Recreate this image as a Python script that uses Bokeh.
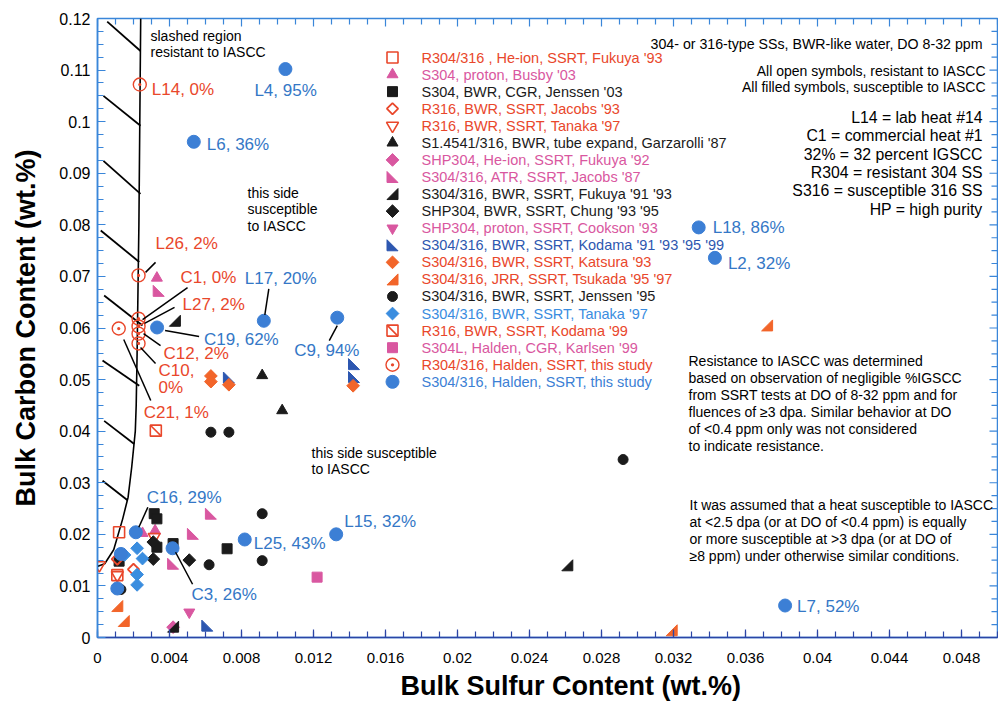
import numpy as np
from bokeh.plotting import figure
from bokeh.models import Range1d, FixedTicker, Title
from bokeh.core.properties import value
from bokeh.embed import file_html
from bokeh.resources import INLINE

# ---------------- data ----------------
x_tick_values = [0.0, 0.004, 0.008, 0.012, 0.016, 0.02, 0.024, 0.028, 0.032, 0.036, 0.04, 0.044, 0.048]
x_tick_labels = ["0", "0.004", "0.008", "0.012", "0.016", "0.02", "0.024", "0.028", "0.032",
                 "0.036", "0.04", "0.044", "0.048"]
y_tick_values = [0.0, 0.01, 0.02, 0.03, 0.04, 0.05, 0.06, 0.07, 0.08, 0.09, 0.1, 0.11, 0.12]
y_tick_labels = ["0", "0.01", "0.02", "0.03", "0.04", "0.05", "0.06", "0.07", "0.08", "0.09",
                 "0.1", "0.11", "0.12"]

fukuya93_S = [0.0012, 0.0011]
fukuya93_C = [0.0204, 0.0121]
busby03_S = [0.0033, 0.0032, 0.0025]
busby03_C = [0.0697, 0.0207, 0.0202]
jenssen03_S = [0.00315, 0.0033, 0.0033, 0.0042, 0.0072, 0.0012]
jenssen03_C = [0.0240, 0.0230, 0.0175, 0.0182, 0.0172, 0.0148]
jacobs93_S = [0.0020, 0.0011]
jacobs93_C = [0.0132, 0.0152]
tanaka97r_S = [0.0001, 0.0011, 0.00315]
tanaka97r_C = [0.0140, 0.0121, 0.0195]
garzarolli87_S = [0.00915, 0.01026]
garzarolli87_C = [0.0508, 0.0440]
fukuya92_S = [0.0042]
fukuya92_C = [0.0020]
jacobs87_S = [0.0034, 0.0063, 0.0053, 0.0042]
jacobs87_C = [0.0672, 0.0240, 0.0201, 0.0143]
fukuya9193_S = [0.0043, 0.0261, 0.0042]
fukuya9193_C = [0.0614, 0.0140, 0.0021]
chung_S = [0.0031, 0.0031, 0.0051]
chung_C = [0.0185, 0.0152, 0.0150]
cookson93_S = [0.0051]
cookson93_C = [0.0049]
kodama_S = [0.0073, 0.01425, 0.01425, 0.0061]
kodama_C = [0.0504, 0.0530, 0.0505, 0.0023]
katsura93_S = [0.0063, 0.0063, 0.0073, 0.0142]
katsura93_C = [0.0507, 0.0496, 0.0490, 0.0488]
tsukada_S = [0.0011, 0.00146, 0.0319, 0.0372]
tsukada_C = [0.0061, 0.0032, 0.0014, 0.0605]
jenssen95_S = [0.0063, 0.0073, 0.00915, 0.00915, 0.0062, 0.0292, 0.0013]
jenssen95_C = [0.0398, 0.0398, 0.0240, 0.0149, 0.0141, 0.0345, 0.0093]
tanaka97s_S = [0.0022, 0.0025, 0.0022, 0.0022, 0.0015]
tanaka97s_C = [0.0173, 0.0153, 0.0122, 0.0102, 0.0160]
kodama99_S = [0.00324]
kodama99_C = [0.0401]
karlsen99_S = [0.0122]
karlsen99_C = [0.0117]

haldenR_id = ["L14", "L26", "C1", "L27", "C12", "C10", "C21"]
haldenR_pct = ["0%", "2%", "0%", "2%", "2%", "0%", "1%"]
haldenR_S = [0.00235, 0.00228, 0.00228, 0.00228, 0.00228, 0.00228, 0.00118]
haldenR_C = [0.1072, 0.0702, 0.0618, 0.0603, 0.0589, 0.0570, 0.0599]

haldenS_id = ["L4", "L6", "L18", "L2", "L17", "C9", "C19", "C16", "C3", "L25", "L15", "L7", "", ""]
haldenS_pct = ["95%", "36%", "86%", "32%", "20%", "94%", "62%", "29%", "26%", "43%", "32%", "52%", "", ""]
haldenS_S = [0.01044, 0.00535, 0.0334, 0.0343, 0.00924, 0.01332, 0.00331, 0.00213, 0.00417,
             0.00818, 0.01326, 0.0382, 0.0013, 0.0011]
haldenS_C = [0.1102, 0.0961, 0.0795, 0.0736, 0.0614, 0.0620, 0.0601, 0.0204, 0.0173,
             0.0190, 0.0200, 0.0062, 0.0162, 0.0095]

# boundary of the "resistant" (slashed) region
boundary_S = [0.00002, 0.0004, 0.0009, 0.0014, 0.0017, 0.0019, 0.0021, 0.00215, 0.0022, 0.0023, 0.0024]
boundary_C = [0.0138, 0.0143, 0.0170, 0.0230, 0.0272, 0.0330, 0.0400, 0.0450, 0.0550, 0.0800, 0.1200]
hatch_S0 = [0.00054, 0.00033, 0.00033, 0.00018, 0.00037, 0.00028, 0.00037, 0.00028]
hatch_C0 = [0.1194, 0.1050, 0.0924, 0.0789, 0.0663, 0.0537, 0.0420, 0.0304]
hatch_S1 = [0.00239, 0.00239, 0.00239, 0.00232, 0.00250, 0.00232, 0.00204, 0.00167]
hatch_C1 = [0.1137, 0.0992, 0.0860, 0.0728, 0.0605, 0.0488, 0.0375, 0.0266]

# ---------------- layout / style ----------------
W, H = 998, 704
BL, BR, BT, BB = 97, 1, 18, 67
XMAX, YMAX = 0.05, 0.12
FW, FH = W - BL - BR, H - BT - BB
XS = FW / XMAX          # px per unit
YS = FH / YMAX
PX0 = BL                # page px of x=0
PY0 = BT + FH           # page px of y=0


def sx(px):
    return (px - PX0) / XS


def sy(py):
    return (PY0 - py) / YS


RED = "#e9472b"
PINK = "#d957a0"
BLACK = "#1b1b1b"
DBLUE = "#2d57b0"
ORANGE = "#f2652a"
LBLUE = "#3a8ddf"
HBLUE = "#3c7fd5"
TBLUE = "#3477c6"
AXBLUE = "#3a86d9"
AXDARK = "#2b45a6"
FONT = value("Liberation Sans")

p = figure(width=W, height=H, x_range=Range1d(0, XMAX), y_range=Range1d(0, YMAX),
           output_backend="svg", toolbar_location=None,
           min_border_left=BL, min_border_right=BR, min_border_top=BT, min_border_bottom=BB)
p.grid.visible = False
p.outline_line_color = AXBLUE
p.outline_line_width = 1.5
p.background_fill_color = "white"

x_minor = [round(v, 4) for v in np.arange(0, 0.0501, 0.001)]
y_minor = [round(v, 5) for v in np.arange(0, 0.1201, 0.0025)]


def style_axis(ax, ticker, color):
    ax.ticker = ticker
    ax.axis_line_color = color
    ax.axis_line_width = 1.5
    ax.major_tick_line_color = color
    ax.minor_tick_line_color = color
    ax.major_tick_in = 8
    ax.major_tick_out = 0
    ax.minor_tick_in = 6
    ax.minor_tick_out = 0
    ax.major_tick_line_width = 1.2
    ax.minor_tick_line_width = 1.2


xt = FixedTicker(ticks=x_tick_values, minor_ticks=x_minor)
yt = FixedTicker(ticks=y_tick_values, minor_ticks=y_minor)

xa = p.xaxis[0]
style_axis(xa, xt, AXDARK)
xa.major_label_overrides = {v: s for v, s in zip(x_tick_values, x_tick_labels)}
xa.major_label_text_font = "Liberation Sans"
xa.major_label_text_font_size = "15px"
xa.major_label_text_color = "black"
xa.major_label_standoff = 15

# x-axis title: sits right of the frame centre in the reference, so placed as a left-aligned title
p.add_layout(Title(text="Bulk Sulfur Content (wt.%)", align="left", offset=400 - BL,
                   text_font="Liberation Sans", text_font_size="27px", text_font_style="bold",
                   text_color="black", standoff=6), "below")

ya = p.yaxis[0]
style_axis(ya, yt, AXBLUE)
ya.major_label_overrides = {v: s for v, s in zip(y_tick_values, y_tick_labels)}
ya.major_label_text_font = "Liberation Sans"
ya.major_label_text_font_size = "16px"
ya.major_label_text_color = "black"
ya.major_label_standoff = 7
ya.axis_label = "Bulk Carbon Content (wt.%)"
ya.axis_label_text_font = "Liberation Sans"
ya.axis_label_text_font_size = "27px"
ya.axis_label_text_font_style = "bold"
ya.axis_label_text_color = "black"
ya.axis_label_standoff = 15

# ticks on the top and right edges of the frame (inward), from the same tick arrays
top_major = x_tick_values
top_minor = [v for v in x_minor if v not in x_tick_values]
p.segment(top_major, [YMAX] * len(top_major), top_major, [YMAX - 8 / YS] * len(top_major),
          line_color=AXBLUE, line_width=1.2)
p.segment(top_minor, [YMAX] * len(top_minor), top_minor, [YMAX - 6 / YS] * len(top_minor),
          line_color=AXBLUE, line_width=1.2)
right_major = y_tick_values
right_minor = [v for v in y_minor if v not in y_tick_values]
p.segment([XMAX] * len(right_major), right_major, [XMAX - 8 / XS] * len(right_major), right_major,
          line_color=AXBLUE, line_width=1.2)
p.segment([XMAX] * len(right_minor), right_minor, [XMAX - 6 / XS] * len(right_minor), right_minor,
          line_color=AXBLUE, line_width=1.2)

# ---------------- slashed region ----------------
p.line(boundary_S, boundary_C, line_color="black", line_width=1.6)
p.segment(hatch_S0, hatch_C0, hatch_S1, hatch_C1, line_color="black", line_width=1.8)


# ---------------- marker drawing ----------------
def rtri(xs, ys, kind, color, h=5.5):
    hx, hy = h / XS, h / YS
    px, py = [], []
    for x, y in zip(xs, ys):
        if kind == "rtl":   # right angle bottom-left
            px.append([x - hx, x - hx, x + hx])
        else:               # right angle bottom-right
            px.append([x + hx, x + hx, x - hx])
        py.append([y - hy, y + hy, y - hy])
    p.patches(px, py, fill_color=color, line_color=color, line_width=1)


def draw(kind, xs, ys, color):
    if kind == "osq":
        p.scatter(xs, ys, marker="square", size=11, line_color=color, fill_alpha=0, line_width=1.6)
    elif kind == "tri":
        p.scatter(xs, ys, marker="triangle", size=11, line_color=color, fill_color=color)
    elif kind == "sq":
        p.scatter(xs, ys, marker="square", size=10, line_color=color, fill_color=color)
    elif kind == "odia":
        p.scatter(xs, ys, marker="square", angle=np.pi / 4, size=8, line_color=color,
                  fill_alpha=0, line_width=1.8)
    elif kind == "oitri":
        p.scatter(xs, ys, marker="inverted_triangle", size=12, line_color=color,
                  fill_alpha=0, line_width=1.6)
    elif kind == "dia":
        p.scatter(xs, ys, marker="square", angle=np.pi / 4, size=9, line_color=color, fill_color=color)
    elif kind == "itri":
        p.scatter(xs, ys, marker="inverted_triangle", size=11, line_color=color, fill_color=color)
    elif kind == "circ":
        p.scatter(xs, ys, marker="circle", size=10, line_color=color, fill_color=color)
    elif kind == "bigcirc":
        p.scatter(xs, ys, marker="circle", size=13, line_color=color, fill_color=color)
    elif kind == "slsq":
        p.scatter(xs, ys, marker="square", size=11, line_color=color, fill_alpha=0, line_width=1.6)
        p.scatter(xs, ys, marker="dash", angle=-np.pi / 4, size=14, line_color=color, line_width=1.6)
    elif kind == "cdot":
        p.scatter(xs, ys, marker="circle_dot", size=13, line_color=color, fill_alpha=0, line_width=1.4)
    elif kind in ("rtl", "rtr"):
        rtri(xs, ys, kind, color)


series = [
    ("R304/316 , He-ion, SSRT, Fukuya '93", "osq", RED, RED, fukuya93_S, fukuya93_C),
    ("S304, proton, Busby '03", "tri", PINK, PINK, busby03_S, busby03_C),
    ("S304, BWR, CGR, Jenssen '03", "sq", BLACK, BLACK, jenssen03_S, jenssen03_C),
    ("R316, BWR, SSRT, Jacobs '93", "odia", RED, RED, jacobs93_S, jacobs93_C),
    ("R316, BWR, SSRT, Tanaka '97", "oitri", RED, RED, tanaka97r_S, tanaka97r_C),
    ("S1.4541/316, BWR, tube expand, Garzarolli '87", "tri", BLACK, BLACK, garzarolli87_S, garzarolli87_C),
    ("SHP304, He-ion, SSRT, Fukuya '92", "dia", PINK, PINK, fukuya92_S, fukuya92_C),
    ("S304/316, ATR, SSRT, Jacobs '87", "rtl", PINK, PINK, jacobs87_S, jacobs87_C),
    ("S304/316, BWR, SSRT, Fukuya '91 '93", "rtr", BLACK, BLACK, fukuya9193_S, fukuya9193_C),
    ("SHP304, BWR, SSRT, Chung '93 '95", "dia", BLACK, BLACK, chung_S, chung_C),
    ("SHP304, proton, SSRT, Cookson '93", "itri", PINK, PINK, cookson93_S, cookson93_C),
    ("S304/316, BWR, SSRT, Kodama '91 '93 '95 '99", "rtl", DBLUE, DBLUE, kodama_S, kodama_C),
    ("S304/316, BWR, SSRT, Katsura '93", "dia", ORANGE, RED, katsura93_S, katsura93_C),
    ("S304/316, JRR, SSRT, Tsukada '95 '97", "rtr", ORANGE, RED, tsukada_S, tsukada_C),
    ("S304/316, BWR, SSRT, Jenssen '95", "circ", BLACK, BLACK, jenssen95_S, jenssen95_C),
    ("S304/316, BWR, SSRT, Tanaka '97", "dia", LBLUE, LBLUE, tanaka97s_S, tanaka97s_C),
    ("R316, BWR, SSRT, Kodama '99", "slsq", RED, RED, kodama99_S, kodama99_C),
    ("S304L, Halden, CGR, Karlsen '99", "sq", PINK, PINK, karlsen99_S, karlsen99_C),
    ("R304/316, Halden, SSRT, this study", "cdot", RED, RED, haldenR_S, haldenR_C),
    ("S304/316, Halden, SSRT, this study", "bigcirc", HBLUE, HBLUE, haldenS_S, haldenS_C),
]

for name, kind, col, tcol, xs, ys in series:
    draw(kind, xs, ys, col)

# ---------------- legend (drawn manually) ----------------
LEG_MX, LEG_TX, LEG_Y0, LEG_DY = 392, 421, 57, 17.07
leg_tx, leg_ty, leg_txt, leg_col = [], [], [], []
for i, (name, kind, col, tcol, xs, ys) in enumerate(series):
    yy = sy(LEG_Y0 + i * LEG_DY)
    draw(kind, [sx(LEG_MX)], [yy], col)
    leg_tx.append(sx(LEG_TX))
    leg_ty.append(yy)
    leg_txt.append(name)
    leg_col.append(tcol)
p.text(x=leg_tx, y=leg_ty, text=leg_txt, text_color=leg_col, text_font=FONT,
       text_font_size="14.5px", text_baseline="middle", text_align="left")

# ---------------- point labels ----------------
# offsets in screen px: (text dx, text dy, leader [x0, y0, x1, y1] or None); dy positive = down
labR = {
    "L14": (12, 5, None),
    "L26": (17, -32, (7, -3, 17, -13)),
    "C1": (42, -41, (4, 1, 49, -31)),
    "L27": (44, -22, (6, -3, 36, -19)),
    "C12": (25, 20, (5, 0, 22, 12)),
    "C10": (20, 27, (2, 4, 17, 20)),
    "C21": (25, 84, (5, 11, 32, 72)),
}
labS = {
    "L4": (-31, 21, None),
    "L6": (13, 3, None),
    "L18": (14, 0, None),
    "L2": (13, 6, None),
    "L17": (-19, -42, (1, -6, 5, -32)),
    "C9": (-43, 33, (0, 8, -8, 23)),
    "C19": (47, 12, (8, 3, 42, 9)),
    "C16": (11, -35, (3, -5, 12, -25)),
    "C3": (19, 46, (3, 4, 20, 36)),
    "L25": (9, 4, None),
    "L15": (8, -13, None),
    "L7": (12, 1, None),
}

lab_x, lab_y, lab_t, lab_c = [], [], [], []
ld_x0, ld_y0, ld_x1, ld_y1 = [], [], [], []
for ids, pcts, Ss, Cs, offs, col in [(haldenR_id, haldenR_pct, haldenR_S, haldenR_C, labR, RED),
                                     (haldenS_id, haldenS_pct, haldenS_S, haldenS_C, labS, TBLUE)]:
    for hid, pct, s, c in zip(ids, pcts, Ss, Cs):
        if hid not in offs:
            continue
        dx, dy, ld = offs[hid]
        if hid == "C10":
            lab_x += [s + dx / XS, s + dx / XS]
            lab_y += [c - dy / YS, c - (dy + 17) / YS]
            lab_t += [hid + ",", pct]
            lab_c += [col, col]
        else:
            lab_x.append(s + dx / XS)
            lab_y.append(c - dy / YS)
            lab_t.append(hid + ", " + pct)
            lab_c.append(col)
        if ld is not None:
            ld_x0.append(s + ld[0] / XS)
            ld_y0.append(c - ld[1] / YS)
            ld_x1.append(s + ld[2] / XS)
            ld_y1.append(c - ld[3] / YS)

p.segment(ld_x0, ld_y0, ld_x1, ld_y1, line_color="black", line_width=1.5)
p.text(x=lab_x, y=lab_y, text=lab_t, text_color=lab_c, text_font=FONT,
       text_font_size="17px", text_baseline="middle", text_align="left")


# ---------------- notes ----------------
def note(lines, px, py0, dpy, align="left", size="14px", color="black"):
    p.text(x=[sx(px)] * len(lines), y=[sy(py0 + i * dpy) for i in range(len(lines))],
           text=lines, text_color=color, text_font=FONT, text_font_size=size,
           text_baseline="middle", text_align=align)


note(["slashed region", "resistant to IASCC"], 150, 35, 16.7)
note(["this side", "susceptible", "to IASCC"], 247, 192, 16.7)
note(["this side susceptible", "to IASCC"], 311, 452, 16.7)
note(["304- or 316-type SSs, BWR-like water, DO 8-32 ppm"], 982, 43, 17, align="right", size="14.2px")
note(["All open symbols, resistant to IASCC", "All filled symbols, susceptible to IASCC"],
     985, 70, 16.7, align="right", size="14px")
note(["L14 = lab heat #14", "C1 = commercial heat #1", "32% = 32 percent IGSCC",
      "R304 = resistant 304 SS", "S316 = susceptible 316 SS", "HP = high purity"],
     982, 117, 18.3, align="right", size="15.8px")
note(["Resistance to IASCC was determined",
      "based on observation of  negligible %IGSCC",
      "from SSRT tests at DO of 8-32 ppm and for",
      " fluences of \u22653 dpa.  Similar behavior at DO",
      "of <0.4 ppm only was not considered",
      "to indicate resistance."], 688, 360, 17, size="14px")
note(["It was assumed that a heat susceptible to IASCC",
      "at <2.5 dpa (or at DO of <0.4 ppm) is equally",
      "or more susceptible at >3 dpa (or at DO of",
      " \u22658 ppm) under otherwise similar conditions."], 689, 504, 17.3, size="14px")

open("out.html", "w").write(file_html(p, INLINE))
